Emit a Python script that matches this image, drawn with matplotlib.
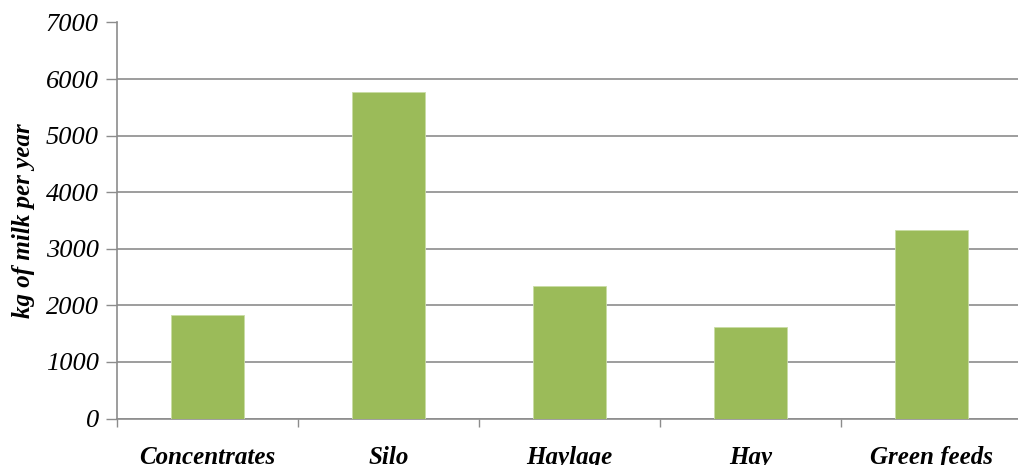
import matplotlib.pyplot as plt
import numpy as np

categories = ['Concentrates', 'Silo', 'Haylage', 'Hay', 'Green feeds']
milk_kg = [1830, 5780, 2340, 1620, 3330]
y_ticks = [0, 1000, 2000, 3000, 4000, 5000, 6000, 7000]

plt.rcParams['font.family'] = ['Liberation Serif', 'DejaVu Serif']

fig = plt.figure(figsize=(10.18, 4.65), dpi=100)
ax = fig.add_axes([117 / 1018, 46.5 / 465, 905 / 1018, 396 / 465])

x = np.arange(len(categories))
ax.bar(x, milk_kg, width=0.4, color='#9BBB59', edgecolor='#C9DCA5', linewidth=0.6, zorder=3)

ax.set_xlim(-0.5, len(categories) - 0.5)
ax.set_ylim(0, 7000)
ax.set_yticks(y_ticks)
ax.set_yticklabels([str(t) for t in y_ticks], fontsize=19, style='italic')
ax.yaxis.grid(True, color='#8C8C8C', linewidth=1.2, zorder=0)
ax.tick_params(axis='y', length=8, width=1, color='#8C8C8C', pad=5)

# category labels sit between the boundary ticks
ax.set_xticks(np.arange(-0.5, len(categories), 1.0))
ax.set_xticklabels([])
ax.set_xticks(x, minor=True)
ax.set_xticklabels(categories, minor=True, fontsize=18, style='italic', fontweight='bold')
ax.tick_params(axis='x', which='major', length=6, width=1, color='#8C8C8C')
ax.tick_params(axis='x', which='minor', length=0, pad=20)

for side in ['top', 'right']:
    ax.spines[side].set_visible(False)
for side in ['left', 'bottom']:
    ax.spines[side].set_color('#8C8C8C')
    ax.spines[side].set_linewidth(1.2)

ax.set_ylabel('kg of milk per year', fontsize=18, style='italic', fontweight='bold', labelpad=8)

fig.savefig('out.png', dpi=100)
